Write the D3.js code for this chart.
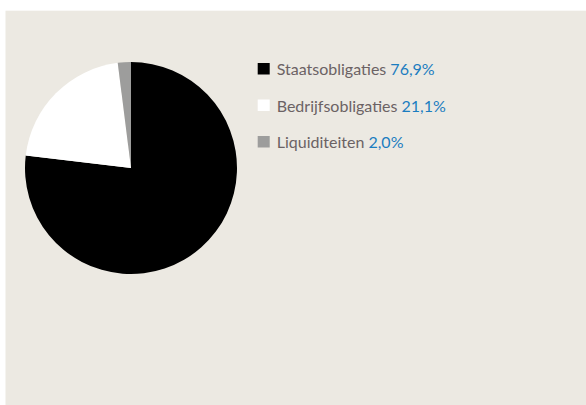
<!DOCTYPE html>
<html>
<head>
<meta charset="utf-8">
<script src="https://cdn.jsdelivr.net/npm/d3@7"></script>
<style>
  body { margin: 0; background: #fff; }
  svg { display: block; }
</style>
</head>
<body>
<script>
// chart data
const categories = ["Staatsobligaties", "Bedrijfsobligaties", "Liquiditeiten"];
const values = [76.9, 21.1, 2.0];
const valueLabels = ["76,9%", "21,1%", "2,0%"];
const colors = ["#000000", "#ffffff", "#9d9d9c"];

const W = 586, H = 405;
const svg = d3.select("body").append("svg")
    .attr("width", W)
    .attr("height", H);

// beige panel
svg.append("rect")
    .attr("x", 5.5).attr("y", 10.7)
    .attr("width", W - 5.5).attr("height", H - 10.7)
    .attr("fill", "#ece9e2");

// pie
const cx = 131, cy = 168, r = 106;
const pie = d3.pie().sort(null).value(d => d);
const arc = d3.arc().innerRadius(0).outerRadius(r);

const gPie = svg.append("g").attr("transform", "translate(" + cx + "," + cy + ")");
gPie.selectAll("path")
    .data(pie(values))
    .join("path")
    .attr("d", arc)
    .attr("fill", (d, i) => colors[i]);

// legend
const legendY = d3.scalePoint().domain(categories).range([75, 148]);
const lg = svg.append("g").attr("font-family", "Lato, 'Open Sans', sans-serif").attr("font-size", 16);

const rows = lg.selectAll("g")
    .data(categories)
    .join("g")
    .attr("transform", d => "translate(257.7," + legendY(d) + ")");

rows.append("rect")
    .attr("x", 0).attr("y", -12)
    .attr("width", 12).attr("height", 11.5)
    .attr("fill", (d, i) => colors[i]);

const txt = rows.append("text")
    .attr("x", 19)
    .attr("y", 0);
txt.append("tspan")
    .attr("fill", "#6b6264")
    .text(d => d);
txt.append("tspan")
    .attr("fill", "#1b7dc0")
    .text((d, i) => " " + valueLabels[i]);
</script>
</body>
</html>
